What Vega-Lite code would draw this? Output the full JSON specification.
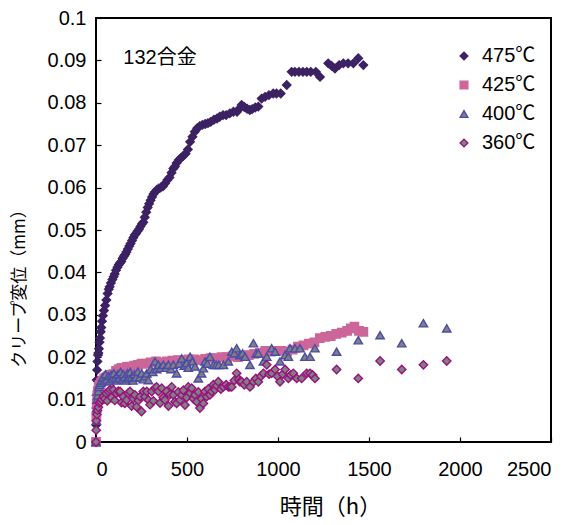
{
  "$schema": "https://vega.github.io/schema/vega-lite/v6.json",
  "width": 455,
  "height": 424,
  "autosize": {"type": "none"},
  "padding": {"left": 96, "top": 18, "right": 29, "bottom": 83},
  "background": "white",
  "config": {
    "view": {"stroke": "#000", "strokeWidth": 2},
    "font": "Liberation Sans, Noto Sans CJK JP",
    "axis": {"grid": false, "domain": false, "tickColor": "#000", "tickSize": -5, "tickWidth": 1.2, "labelColor": "#000", "labelFontSize": 20, "labelFont": "Liberation Sans, Noto Sans CJK JP", "titleFont": "Noto Sans CJK JP", "titleFontSize": 22, "titleFontWeight": "normal", "titleColor": "#000"}
  },
  "layer": [
    {
      "data": {"values": [
        {"s":"475℃","t":0,"d":0},{"s":"475℃","t":1,"d":0.004},{"s":"475℃","t":2,"d":0.008},{"s":"475℃","t":3,"d":0.011},{"s":"475℃","t":4,"d":0.0146},{"s":"475℃","t":6,"d":0.017},{"s":"475℃","t":8,"d":0.019},{"s":"475℃","t":11,"d":0.0205},{"s":"475℃","t":13,"d":0.021},{"s":"475℃","t":16,"d":0.022},{"s":"475℃","t":19,"d":0.0235},{"s":"475℃","t":22,"d":0.0245},{"s":"475℃","t":26,"d":0.026},{"s":"475℃","t":29,"d":0.027},{"s":"475℃","t":33,"d":0.0285},{"s":"475℃","t":38,"d":0.0298},{"s":"475℃","t":44,"d":0.031},{"s":"475℃","t":50,"d":0.0322},{"s":"475℃","t":57,"d":0.0335},{"s":"475℃","t":64,"d":0.035},{"s":"475℃","t":70,"d":0.036},{"s":"475℃","t":75,"d":0.0366},{"s":"475℃","t":82,"d":0.0375},{"s":"475℃","t":90,"d":0.0383},{"s":"475℃","t":97,"d":0.039},{"s":"475℃","t":103,"d":0.0396},{"s":"475℃","t":110,"d":0.0405},{"s":"475℃","t":118,"d":0.0412},{"s":"475℃","t":125,"d":0.0418},{"s":"475℃","t":132,"d":0.0422},{"s":"475℃","t":139,"d":0.0426},{"s":"475℃","t":146,"d":0.0433},{"s":"475℃","t":153,"d":0.0438},{"s":"475℃","t":160,"d":0.0442},{"s":"475℃","t":167,"d":0.0448},{"s":"475℃","t":175,"d":0.0455},{"s":"475℃","t":183,"d":0.0462},{"s":"475℃","t":190,"d":0.0468},{"s":"475℃","t":198,"d":0.0475},{"s":"475℃","t":205,"d":0.0482},{"s":"475℃","t":213,"d":0.0488},{"s":"475℃","t":220,"d":0.0492},{"s":"475℃","t":228,"d":0.0497},{"s":"475℃","t":236,"d":0.0502},{"s":"475℃","t":244,"d":0.0508},{"s":"475℃","t":252,"d":0.0514},{"s":"475℃","t":260,"d":0.0518},{"s":"475℃","t":268,"d":0.053},{"s":"475℃","t":276,"d":0.0542},{"s":"475℃","t":284,"d":0.0553},{"s":"475℃","t":292,"d":0.0562},{"s":"475℃","t":300,"d":0.057},{"s":"475℃","t":308,"d":0.0578},{"s":"475℃","t":316,"d":0.0585},{"s":"475℃","t":325,"d":0.059},{"s":"475℃","t":335,"d":0.0595},{"s":"475℃","t":345,"d":0.0598},{"s":"475℃","t":355,"d":0.06},{"s":"475℃","t":368,"d":0.0603},{"s":"475℃","t":380,"d":0.061},{"s":"475℃","t":392,"d":0.0618},{"s":"475℃","t":404,"d":0.0624},{"s":"475℃","t":415,"d":0.0635},{"s":"475℃","t":425,"d":0.0645},{"s":"475℃","t":434,"d":0.065},{"s":"475℃","t":443,"d":0.0658},{"s":"475℃","t":455,"d":0.0665},{"s":"475℃","t":467,"d":0.067},{"s":"475℃","t":480,"d":0.0675},{"s":"475℃","t":492,"d":0.068},{"s":"475℃","t":505,"d":0.069},{"s":"475℃","t":517,"d":0.0708},{"s":"475℃","t":530,"d":0.072},{"s":"475℃","t":543,"d":0.0732},{"s":"475℃","t":556,"d":0.074},{"s":"475℃","t":570,"d":0.0745},{"s":"475℃","t":585,"d":0.0748},{"s":"475℃","t":600,"d":0.075},{"s":"475℃","t":615,"d":0.0752},{"s":"475℃","t":630,"d":0.0755},{"s":"475℃","t":648,"d":0.076},{"s":"475℃","t":665,"d":0.0763},{"s":"475℃","t":680,"d":0.0767},{"s":"475℃","t":698,"d":0.0771},{"s":"475℃","t":715,"d":0.0771},{"s":"475℃","t":735,"d":0.0775},{"s":"475℃","t":755,"d":0.0779},{"s":"475℃","t":775,"d":0.0779},{"s":"475℃","t":790,"d":0.0787},{"s":"475℃","t":800,"d":0.0795},{"s":"475℃","t":815,"d":0.079},{"s":"475℃","t":830,"d":0.0786},{"s":"475℃","t":845,"d":0.0783},{"s":"475℃","t":858,"d":0.0785},{"s":"475℃","t":875,"d":0.0789},{"s":"475℃","t":892,"d":0.0791},{"s":"475℃","t":910,"d":0.081},{"s":"475℃","t":929,"d":0.0814},{"s":"475℃","t":950,"d":0.0818},{"s":"475℃","t":974,"d":0.0822},{"s":"475℃","t":992,"d":0.0822},{"s":"475℃","t":1015,"d":0.0822},{"s":"475℃","t":1048,"d":0.0842},{"s":"475℃","t":1075,"d":0.0873},{"s":"475℃","t":1093,"d":0.0873},{"s":"475℃","t":1115,"d":0.0873},{"s":"475℃","t":1137,"d":0.0873},{"s":"475℃","t":1158,"d":0.0873},{"s":"475℃","t":1180,"d":0.0873},{"s":"475℃","t":1208,"d":0.0873},{"s":"475℃","t":1231,"d":0.0861},{"s":"475℃","t":1276,"d":0.0893},{"s":"475℃","t":1295,"d":0.0887},{"s":"475℃","t":1313,"d":0.0881},{"s":"475℃","t":1336,"d":0.0889},{"s":"475℃","t":1359,"d":0.0893},{"s":"475℃","t":1385,"d":0.0893},{"s":"475℃","t":1414,"d":0.0893},{"s":"475℃","t":1441,"d":0.0905},{"s":"475℃","t":1469,"d":0.0889},
        {"s":"425℃","t":0,"d":0},{"s":"425℃","t":2,"d":0.006},{"s":"425℃","t":4,"d":0.009},{"s":"425℃","t":7,"d":0.011},{"s":"425℃","t":10,"d":0.012},{"s":"425℃","t":15,"d":0.013},{"s":"425℃","t":20,"d":0.0135},{"s":"425℃","t":28,"d":0.014},{"s":"425℃","t":35,"d":0.0145},{"s":"425℃","t":45,"d":0.015},{"s":"425℃","t":55,"d":0.0152},{"s":"425℃","t":65,"d":0.0155},{"s":"425℃","t":80,"d":0.0158},{"s":"425℃","t":95,"d":0.016},{"s":"425℃","t":110,"d":0.0168},{"s":"425℃","t":125,"d":0.0172},{"s":"425℃","t":140,"d":0.0175},{"s":"425℃","t":155,"d":0.0175},{"s":"425℃","t":170,"d":0.0177},{"s":"425℃","t":190,"d":0.0178},{"s":"425℃","t":210,"d":0.018},{"s":"425℃","t":230,"d":0.0182},{"s":"425℃","t":250,"d":0.0185},{"s":"425℃","t":275,"d":0.0185},{"s":"425℃","t":300,"d":0.0188},{"s":"425℃","t":330,"d":0.019},{"s":"425℃","t":360,"d":0.0188},{"s":"425℃","t":390,"d":0.019},{"s":"425℃","t":420,"d":0.0192},{"s":"425℃","t":450,"d":0.0193},{"s":"425℃","t":480,"d":0.0193},{"s":"425℃","t":510,"d":0.0195},{"s":"425℃","t":540,"d":0.0195},{"s":"425℃","t":570,"d":0.0193},{"s":"425℃","t":600,"d":0.0196},{"s":"425℃","t":630,"d":0.0198},{"s":"425℃","t":660,"d":0.0198},{"s":"425℃","t":690,"d":0.02},{"s":"425℃","t":720,"d":0.02},{"s":"425℃","t":750,"d":0.0202},{"s":"425℃","t":780,"d":0.02},{"s":"425℃","t":810,"d":0.0203},{"s":"425℃","t":840,"d":0.0205},{"s":"425℃","t":870,"d":0.0208},{"s":"425℃","t":900,"d":0.021},{"s":"425℃","t":930,"d":0.0215},{"s":"425℃","t":960,"d":0.0213},{"s":"425℃","t":990,"d":0.0215},{"s":"425℃","t":1020,"d":0.0215},{"s":"425℃","t":1050,"d":0.0213},{"s":"425℃","t":1080,"d":0.0218},{"s":"425℃","t":1110,"d":0.0225},{"s":"425℃","t":1140,"d":0.0228},{"s":"425℃","t":1170,"d":0.0232},{"s":"425℃","t":1200,"d":0.0235},{"s":"425℃","t":1230,"d":0.0245},{"s":"425℃","t":1260,"d":0.0248},{"s":"425℃","t":1290,"d":0.025},{"s":"425℃","t":1320,"d":0.0255},{"s":"425℃","t":1350,"d":0.0258},{"s":"425℃","t":1380,"d":0.0262},{"s":"425℃","t":1400,"d":0.0268},{"s":"425℃","t":1420,"d":0.0272},{"s":"425℃","t":1445,"d":0.0262},{"s":"425℃","t":1469,"d":0.026},
        {"s":"400℃","t":0,"d":0},{"s":"400℃","t":2,"d":0.005},{"s":"400℃","t":4,"d":0.008},{"s":"400℃","t":6,"d":0.01},{"s":"400℃","t":9,"d":0.011},{"s":"400℃","t":12,"d":0.012},{"s":"400℃","t":16,"d":0.013},{"s":"400℃","t":20,"d":0.0135},{"s":"400℃","t":25,"d":0.014},{"s":"400℃","t":30,"d":0.0145},{"s":"400℃","t":38,"d":0.0153},{"s":"400℃","t":45,"d":0.0145},{"s":"400℃","t":52,"d":0.016},{"s":"400℃","t":60,"d":0.0148},{"s":"400℃","t":68,"d":0.0155},{"s":"400℃","t":75,"d":0.0143},{"s":"400℃","t":83,"d":0.0158},{"s":"400℃","t":90,"d":0.0148},{"s":"400℃","t":98,"d":0.0162},{"s":"400℃","t":105,"d":0.015},{"s":"400℃","t":113,"d":0.0145},{"s":"400℃","t":120,"d":0.016},{"s":"400℃","t":128,"d":0.015},{"s":"400℃","t":135,"d":0.0165},{"s":"400℃","t":143,"d":0.0148},{"s":"400℃","t":150,"d":0.016},{"s":"400℃","t":158,"d":0.0153},{"s":"400℃","t":165,"d":0.0145},{"s":"400℃","t":173,"d":0.0162},{"s":"400℃","t":180,"d":0.015},{"s":"400℃","t":188,"d":0.0165},{"s":"400℃","t":195,"d":0.0153},{"s":"400℃","t":203,"d":0.0145},{"s":"400℃","t":212,"d":0.016},{"s":"400℃","t":220,"d":0.0152},{"s":"400℃","t":230,"d":0.0166},{"s":"400℃","t":240,"d":0.0153},{"s":"400℃","t":251,"d":0.0162},{"s":"400℃","t":260,"d":0.0148},{"s":"400℃","t":270,"d":0.0155},{"s":"400℃","t":279,"d":0.0162},{"s":"400℃","t":288,"d":0.0146},{"s":"400℃","t":300,"d":0.0172},{"s":"400℃","t":312,"d":0.0165},{"s":"400℃","t":324,"d":0.019},{"s":"400℃","t":333,"d":0.0172},{"s":"400℃","t":343,"d":0.0182},{"s":"400℃","t":355,"d":0.0175},{"s":"400℃","t":370,"d":0.0182},{"s":"400℃","t":385,"d":0.0175},{"s":"400℃","t":398,"d":0.0182},{"s":"400℃","t":412,"d":0.0172},{"s":"400℃","t":425,"d":0.0182},{"s":"400℃","t":443,"d":0.0162},{"s":"400℃","t":457,"d":0.0185},{"s":"400℃","t":471,"d":0.0197},{"s":"400℃","t":485,"d":0.018},{"s":"400℃","t":498,"d":0.0186},{"s":"400℃","t":507,"d":0.0175},{"s":"400℃","t":517,"d":0.0201},{"s":"400℃","t":530,"d":0.019},{"s":"400℃","t":544,"d":0.0178},{"s":"400℃","t":562,"d":0.015},{"s":"400℃","t":580,"d":0.0162},{"s":"400℃","t":590,"d":0.0174},{"s":"400℃","t":599,"d":0.019},{"s":"400℃","t":612,"d":0.0185},{"s":"400℃","t":626,"d":0.0201},{"s":"400℃","t":645,"d":0.0182},{"s":"400℃","t":660,"d":0.0182},{"s":"400℃","t":675,"d":0.0182},{"s":"400℃","t":700,"d":0.0182},{"s":"400℃","t":727,"d":0.019},{"s":"400℃","t":746,"d":0.0213},{"s":"400℃","t":760,"d":0.0209},{"s":"400℃","t":773,"d":0.0221},{"s":"400℃","t":791,"d":0.0205},{"s":"400℃","t":805,"d":0.0209},{"s":"400℃","t":819,"d":0.0201},{"s":"400℃","t":846,"d":0.0182},{"s":"400℃","t":865,"d":0.0233},{"s":"400℃","t":880,"d":0.0209},{"s":"400℃","t":892,"d":0.0209},{"s":"400℃","t":920,"d":0.019},{"s":"400℃","t":938,"d":0.0201},{"s":"400℃","t":965,"d":0.0221},{"s":"400℃","t":984,"d":0.0213},{"s":"400℃","t":1011,"d":0.019},{"s":"400℃","t":1039,"d":0.0205},{"s":"400℃","t":1057,"d":0.0201},{"s":"400℃","t":1066,"d":0.0221},{"s":"400℃","t":1093,"d":0.0221},{"s":"400℃","t":1121,"d":0.0221},{"s":"400℃","t":1148,"d":0.0201},{"s":"400℃","t":1176,"d":0.0201},{"s":"400℃","t":1203,"d":0.0221},{"s":"400℃","t":1322,"d":0.0213},{"s":"400℃","t":1441,"d":0.024},{"s":"400℃","t":1561,"d":0.0252},{"s":"400℃","t":1680,"d":0.0233},{"s":"400℃","t":1799,"d":0.028},{"s":"400℃","t":1927,"d":0.0268},
        {"s":"360℃","t":0,"d":0},{"s":"360℃","t":1,"d":0.0028},{"s":"360℃","t":2,"d":0.005},{"s":"360℃","t":5,"d":0.0065},{"s":"360℃","t":8,"d":0.0075},{"s":"360℃","t":13,"d":0.0082},{"s":"360℃","t":18,"d":0.0092},{"s":"360℃","t":25,"d":0.0095},{"s":"360℃","t":32,"d":0.01},{"s":"360℃","t":40,"d":0.0107},{"s":"360℃","t":48,"d":0.0102},{"s":"360℃","t":56,"d":0.0115},{"s":"360℃","t":62,"d":0.0097},{"s":"360℃","t":68,"d":0.0119},{"s":"360℃","t":77,"d":0.0123},{"s":"360℃","t":85,"d":0.0105},{"s":"360℃","t":95,"d":0.0123},{"s":"360℃","t":103,"d":0.0098},{"s":"360℃","t":112,"d":0.0115},{"s":"360℃","t":122,"d":0.012},{"s":"360℃","t":132,"d":0.0119},{"s":"360℃","t":140,"d":0.0093},{"s":"360℃","t":150,"d":0.0107},{"s":"360℃","t":158,"d":0.0091},{"s":"360℃","t":168,"d":0.0099},{"s":"360℃","t":177,"d":0.0115},{"s":"360℃","t":187,"d":0.0119},{"s":"360℃","t":196,"d":0.0085},{"s":"360℃","t":205,"d":0.0102},{"s":"360℃","t":214,"d":0.0111},{"s":"360℃","t":223,"d":0.0083},{"s":"360℃","t":233,"d":0.0098},{"s":"360℃","t":242,"d":0.0107},{"s":"360℃","t":250,"d":0.0072},{"s":"360℃","t":260,"d":0.0119},{"s":"360℃","t":269,"d":0.0107},{"s":"360℃","t":279,"d":0.0119},{"s":"360℃","t":288,"d":0.0099},{"s":"360℃","t":297,"d":0.0088},{"s":"360℃","t":306,"d":0.0119},{"s":"360℃","t":315,"d":0.0097},{"s":"360℃","t":324,"d":0.0127},{"s":"360℃","t":333,"d":0.013},{"s":"360℃","t":343,"d":0.0119},{"s":"360℃","t":352,"d":0.0092},{"s":"360℃","t":361,"d":0.0127},{"s":"360℃","t":370,"d":0.0105},{"s":"360℃","t":379,"d":0.0099},{"s":"360℃","t":388,"d":0.0119},{"s":"360℃","t":398,"d":0.0085},{"s":"360℃","t":407,"d":0.0112},{"s":"360℃","t":416,"d":0.013},{"s":"360℃","t":425,"d":0.0111},{"s":"360℃","t":434,"d":0.0095},{"s":"360℃","t":443,"d":0.0091},{"s":"360℃","t":452,"d":0.0118},{"s":"360℃","t":462,"d":0.0099},{"s":"360℃","t":471,"d":0.0111},{"s":"360℃","t":480,"d":0.0122},{"s":"360℃","t":489,"d":0.0087},{"s":"360℃","t":498,"d":0.0105},{"s":"360℃","t":507,"d":0.013},{"s":"360℃","t":517,"d":0.0115},{"s":"360℃","t":526,"d":0.0127},{"s":"360℃","t":535,"d":0.0102},{"s":"360℃","t":544,"d":0.0111},{"s":"360℃","t":553,"d":0.0095},{"s":"360℃","t":562,"d":0.0118},{"s":"360℃","t":571,"d":0.008},{"s":"360℃","t":580,"d":0.0102},{"s":"360℃","t":590,"d":0.0091},{"s":"360℃","t":599,"d":0.0119},{"s":"360℃","t":608,"d":0.0107},{"s":"360℃","t":617,"d":0.0125},{"s":"360℃","t":626,"d":0.0111},{"s":"360℃","t":636,"d":0.0119},{"s":"360℃","t":645,"d":0.0135},{"s":"360℃","t":654,"d":0.0123},{"s":"360℃","t":663,"d":0.0133},{"s":"360℃","t":672,"d":0.0142},{"s":"360℃","t":686,"d":0.0125},{"s":"360℃","t":700,"d":0.013},{"s":"360℃","t":715,"d":0.0135},{"s":"360℃","t":727,"d":0.013},{"s":"360℃","t":736,"d":0.013},{"s":"360℃","t":746,"d":0.013},{"s":"360℃","t":760,"d":0.0145},{"s":"360℃","t":773,"d":0.0162},{"s":"360℃","t":785,"d":0.0148},{"s":"360℃","t":791,"d":0.0142},{"s":"360℃","t":800,"d":0.0142},{"s":"360℃","t":815,"d":0.0135},{"s":"360℃","t":828,"d":0.0142},{"s":"360℃","t":846,"d":0.013},{"s":"360℃","t":865,"d":0.0142},{"s":"360℃","t":878,"d":0.015},{"s":"360℃","t":892,"d":0.0142},{"s":"360℃","t":906,"d":0.0155},{"s":"360℃","t":920,"d":0.0162},{"s":"360℃","t":938,"d":0.0182},{"s":"360℃","t":951,"d":0.016},{"s":"360℃","t":965,"d":0.0162},{"s":"360℃","t":984,"d":0.0171},{"s":"360℃","t":997,"d":0.0155},{"s":"360℃","t":1011,"d":0.0142},{"s":"360℃","t":1025,"d":0.016},{"s":"360℃","t":1039,"d":0.0171},{"s":"360℃","t":1057,"d":0.015},{"s":"360℃","t":1070,"d":0.0158},{"s":"360℃","t":1084,"d":0.0162},{"s":"360℃","t":1103,"d":0.015},{"s":"360℃","t":1130,"d":0.015},{"s":"360℃","t":1158,"d":0.0162},{"s":"360℃","t":1176,"d":0.0162},{"s":"360℃","t":1190,"d":0.0158},{"s":"360℃","t":1203,"d":0.015},{"s":"360℃","t":1322,"d":0.0171},{"s":"360℃","t":1441,"d":0.015},{"s":"360℃","t":1561,"d":0.0191},{"s":"360℃","t":1680,"d":0.0171},{"s":"360℃","t":1799,"d":0.0182},{"s":"360℃","t":1927,"d":0.0191}
      ]},
      "mark": {"type": "point", "filled": true, "size": 70, "strokeWidth": 1.4, "opacity": 1},
      "encoding": {
        "x": {"field": "t", "type": "quantitative", "scale": {"domain": [0, 2500], "nice": false}, "axis": {"values": [0, 500, 1000, 1500, 2000, 2500], "format": "d", "title": "時間（h）", "labelPadding": 22, "titlePadding": 17, "titleX": 234}},
        "y": {"field": "d", "type": "quantitative", "scale": {"domain": [0, 0.1], "nice": false}, "axis": {"values": [0, 0.01, 0.02, 0.03, 0.04, 0.05, 0.06, 0.07, 0.08, 0.09, 0.1], "format": "~g", "title": "クリープ変位（mm）", "titleFontSize": 17, "labelPadding": 15, "titleX": -68, "titleY": 266}},
        "shape": {"field": "s", "type": "nominal", "scale": {"domain": ["475℃", "425℃", "400℃", "360℃"], "range": ["diamond", "square", "triangle-up", "diamond"]}, "legend": {"title": null}},
        "fill": {"field": "s", "type": "nominal", "scale": {"domain": ["475℃", "425℃", "400℃", "360℃"], "range": ["#3C2163", "#CC6699", "#808080", "#808080"]}, "legend": {"title": null}},
        "stroke": {"field": "s", "type": "nominal", "scale": {"domain": ["475℃", "425℃", "400℃", "360℃"], "range": ["#3C2163", "#CC6699", "#4B4BA8", "#99117F"]}, "legend": {"title": null, "orient": "none", "legendX": 358, "legendY": 28, "labelFontSize": 20, "labelFont": "Liberation Sans, Noto Sans CJK JP", "labelColor": "#000", "symbolSize": 60, "symbolStrokeWidth": 1.4, "labelOffset": 8, "rowPadding": 9}}
      }
    },
    {
      "data": {"values": [{"t": 150, "d": 0.0905, "label": "132合金"}]},
      "mark": {"type": "text", "align": "left", "baseline": "middle", "fontSize": 20, "font": "Liberation Sans, Noto Sans CJK JP", "color": "#000"},
      "encoding": {
        "x": {"field": "t", "type": "quantitative"},
        "y": {"field": "d", "type": "quantitative"},
        "text": {"field": "label"}
      }
    }
  ]
}
